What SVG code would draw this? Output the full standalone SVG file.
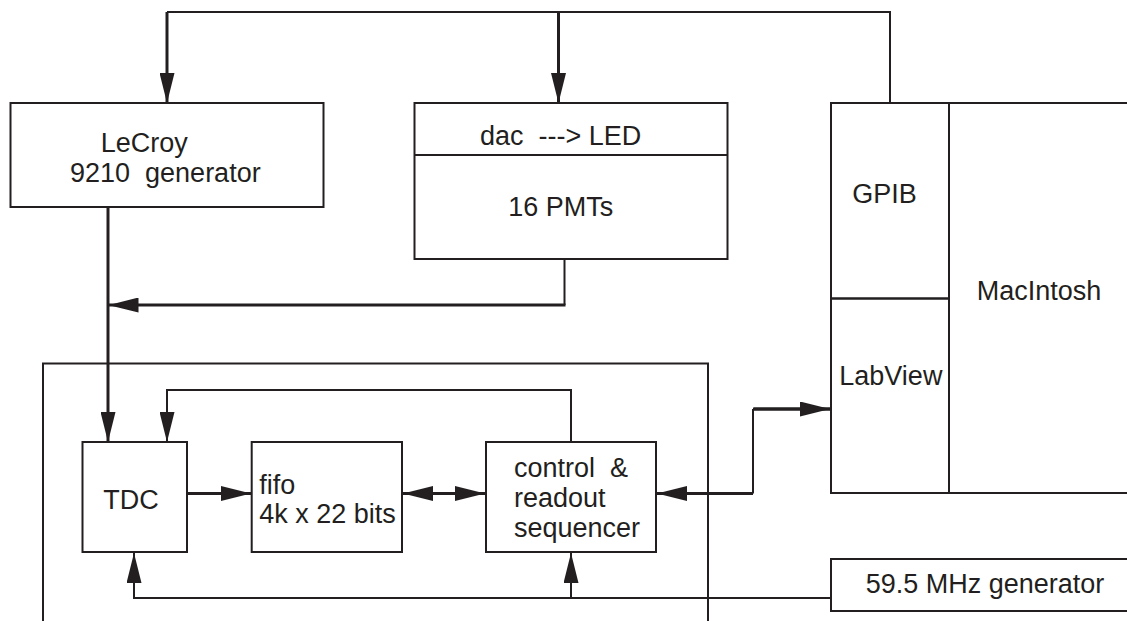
<svg xmlns="http://www.w3.org/2000/svg" width="1127" height="621" viewBox="0 0 1127 621">
<style>
.box{fill:none;stroke:#231f20;stroke-width:2}
.thin{fill:none;stroke:#231f20;stroke-width:2}
.thick{fill:none;stroke:#231f20;stroke-width:3}
text{font-family:"Liberation Sans",Arial,sans-serif;font-size:27px;fill:#231f20;white-space:pre}
</style>
<defs>
<marker id="ah" viewBox="0 0 30 15" markerUnits="userSpaceOnUse" markerWidth="30" markerHeight="15" refX="30" refY="7.5" orient="auto-start-reverse">
<path d="M0,0 L30,7.5 L0,15 z" fill="#231f20"/>
</marker>
</defs>
<rect width="1127" height="621" fill="#ffffff"/>
<g id="connectors">
<path class="thin" d="M890,103 V12 H167"/>
<path class="thick" d="M167,12 V103" marker-end="url(#ah)"/>
<path class="thick" d="M558.5,12 V103" marker-end="url(#ah)"/>
<path class="thick" d="M108,207 V442" marker-end="url(#ah)"/>
<path class="thin" d="M564.5,259 V305"/>
<path class="thick" d="M565.5,305 H108.5" marker-end="url(#ah)"/>
<path class="thin" d="M571,442 V390 H167 V442" marker-end="url(#ah)"/>
<path class="thick" d="M187,493.5 H251" marker-end="url(#ah)"/>
<path class="thick" d="M403,493.5 H485" marker-start="url(#ah)" marker-end="url(#ah)"/>
<path class="thick" d="M830,409 H753"/>
<path class="thin" d="M753,409 V493.5"/>
<path class="thick" d="M753,493.5 H657"/>
<path class="thick" d="M754,409 H830" marker-end="url(#ah)"/>
<path class="thick" d="M752,493.5 H657" marker-end="url(#ah)"/>
<path class="thin" d="M831,598 H134 V553" marker-end="url(#ah)"/>
<path class="thin" d="M571,598 V553" marker-end="url(#ah)"/>
</g>
<g id="lecroy">
<rect class="box" x="10.5" y="103" width="313" height="104"/>
<text x="100.7" y="151.7">LeCroy</text>
<text x="70" y="181.7">9210  generator</text>
</g>
<g id="pmts">
<rect class="box" x="414.5" y="103" width="313" height="156"/>
<line class="box" x1="414.5" y1="155" x2="727.5" y2="155"/>
<text x="480" y="145">dac  ---&gt; LED</text>
<text x="508.3" y="216">16 PMTs</text>
</g>
<g id="macintosh">
<rect class="box" x="949" y="103" width="200" height="390"/>
<text x="976.7" y="300">MacIntosh</text>
</g>
<g id="gpib">
<rect class="box" x="831" y="103" width="118" height="195.5"/>
<text x="852.3" y="202.7">GPIB</text>
</g>
<g id="labview">
<rect class="box" x="831" y="298.5" width="118" height="194.5"/>
<text x="839.3" y="385">LabView</text>
</g>
<g id="crate">
<path class="box" d="M43,621 V363.5 H708 V621"/>
</g>
<g id="tdc">
<rect class="box" x="82.5" y="442" width="104.5" height="110"/>
<text x="103.3" y="508.7">TDC</text>
</g>
<g id="fifo">
<rect class="box" x="251.7" y="442" width="150.3" height="110"/>
<text x="259.3" y="494">fifo</text>
<text x="259.3" y="523.3">4k x 22 bits</text>
</g>
<g id="control">
<rect class="box" x="486" y="442" width="170" height="110"/>
<text x="514" y="476.7">control  &amp;</text>
<text x="514" y="506.7">readout</text>
<text x="514" y="536.7">sequencer</text>
</g>
<g id="clock">
<rect class="box" x="831" y="559" width="300" height="52"/>
<text x="865.7" y="593.3">59.5 MHz generator</text>
</g>
</svg>
